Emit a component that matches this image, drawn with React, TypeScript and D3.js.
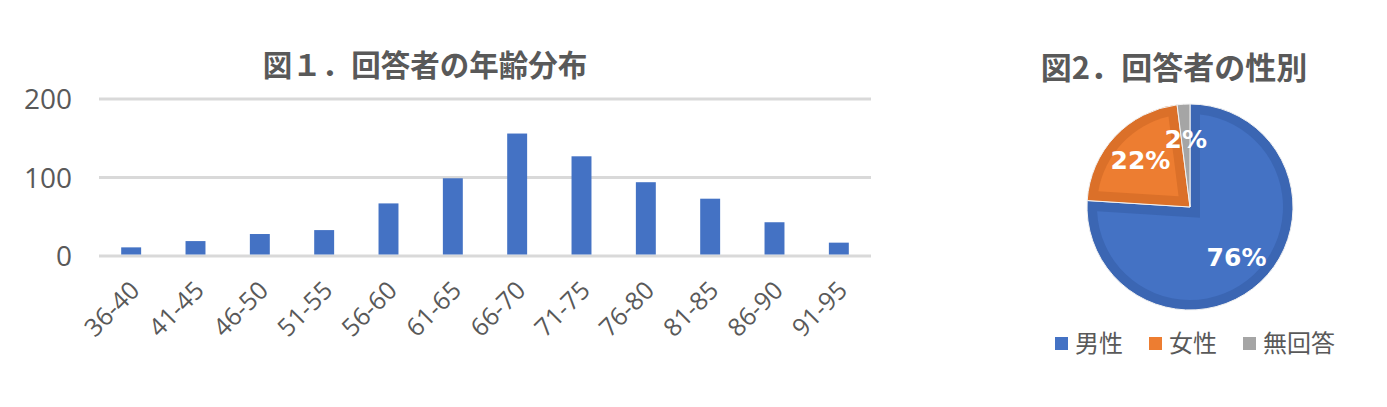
import * as d3 from 'd3';

// bar chart: respondents by age group
const ageGroups = ['36-40', '41-45', '46-50', '51-55', '56-60', '61-65', '66-70', '71-75', '76-80', '81-85', '86-90', '91-95'];
const ageCounts = [11, 19, 28, 33, 67, 99, 156, 127, 94, 73, 43, 17];
const yTicks = [0, 100, 200];

// pie chart: respondents by gender
const genders = ['男性', '女性', '無回答'];
const genderShares = [76, 22, 2];
const genderColors = ['#4472c4', '#ed7d31', '#a5a5a5'];
const genderEdges = ['#3b66b3', '#db7029', '#a5a5a5'];

const TEXT = '#595959';
const JP = '"Noto Sans CJK JP", "Noto Sans", sans-serif';
const NUM = '"Open Sans", "DejaVu Sans", sans-serif';
const BOLDNUM = '"DejaVu Sans", Verdana, sans-serif';

// inset slice for the bevel look: offset d px from both radial edges and the rim
function insetSlice(a0: number, a1: number, r: number, d: number) {
  const R = r - d;
  const theta = a1 - a0;
  const delta = Math.asin(d / R);
  if (theta <= 2 * delta + 0.05) return null;
  const mid = (a0 + a1) / 2;
  const dist = d / Math.sin(theta / 2);
  const p = d3.path();
  p.moveTo(Math.sin(mid) * dist, -Math.cos(mid) * dist);
  p.lineTo(Math.sin(a0 + delta) * R, -Math.cos(a0 + delta) * R);
  p.arc(0, 0, R, a0 + delta - Math.PI / 2, a1 - delta - Math.PI / 2);
  p.closePath();
  return p.toString();
}

function BarChart() {
  const x = d3.scaleBand<string>().domain(ageGroups).range([99, 871]).paddingInner(0.69).paddingOuter(0.345);
  const y = d3.scaleLinear().domain([0, 200]).range([256, 99]);

  return (
    <g>
      <text x={425} y={76} textAnchor="middle" fontFamily={JP} fontWeight="bold" fontSize={29.5} fill={TEXT}>
        図１．回答者の年齢分布
      </text>
      {yTicks.map((t) => (
        <g key={t}>
          <line x1={99} x2={871} y1={y(t)} y2={y(t)} stroke="#d9d9d9" strokeWidth={3} />
          <text x={72} y={y(t)} dy="0.36em" textAnchor="end" fontFamily={NUM} fontSize={28} fill={TEXT}>
            {t}
          </text>
        </g>
      ))}
      {ageGroups.map((g, i) => (
        <rect key={g} x={x(g)} y={y(ageCounts[i])} width={x.bandwidth()} height={y(0) - y(ageCounts[i]) - 1.5} fill="#4472c4" />
      ))}
      {ageGroups.map((g) => {
        const cx = (x(g) ?? 0) + x.bandwidth() / 2 + 10;
        const cy = 292;
        return (
          <text
            key={g}
            transform={`translate(${cx},${cy}) rotate(-45)`}
            textAnchor="end"
            fontFamily={NUM}
            fontSize={25}
            fill={TEXT}
          >
            {g}
          </text>
        );
      })}
    </g>
  );
}

function PieChart() {
  const cx = 1190;
  const cy = 207;
  const r = 103;
  const arcs = d3.pie<number>().sort(null).value((d) => d)(genderShares);
  const arc = d3.arc<d3.PieArcDatum<number>>().innerRadius(0).outerRadius(r);
  const labelArc = d3.arc<d3.PieArcDatum<number>>().innerRadius(68).outerRadius(68);

  // legend layout from label lengths
  const fs = 24;
  let lx = 1055;
  const legend = genders.map((g, i) => {
    const item = { g, i, x: lx };
    lx += 20 + g.length * fs + 26;
    return item;
  });

  return (
    <g>
      <text x={1174} y={79} textAnchor="middle" fontFamily={JP} fontWeight="bold" fontSize={31} fill={TEXT}>
        図2．回答者の性別
      </text>
      <g transform={`translate(${cx},${cy})`}>
        {arcs.map((a, i) => (
          <path key={'o' + i} d={arc(a) ?? ''} fill={genderEdges[i]} stroke="#f2f2f2" strokeWidth={1} />
        ))}
        {arcs.map((a, i) => {
          const d = insetSlice(a.startAngle, a.endAngle, r, 10);
          return d ? <path key={'i' + i} d={d} fill={genderColors[i]} /> : null;
        })}
        {arcs.map((a, i) => {
          const [lx2, ly2] = labelArc.centroid(a);
          return (
            <text key={'l' + i} x={lx2} y={ly2} dy="0.36em" textAnchor="middle" fontFamily={BOLDNUM} fontWeight="bold" fontSize={25} fill="#ffffff">
              {genderShares[i]}%
            </text>
          );
        })}
      </g>
      {legend.map((l) => (
        <g key={l.g}>
          <rect x={l.x} y={337} width={13} height={13} fill={genderColors[l.i]} />
          <text x={l.x + 20} y={352} fontFamily={JP} fontSize={fs} fill={TEXT}>
            {l.g}
          </text>
        </g>
      ))}
    </g>
  );
}

export default function App() {
  return (
    <svg width={1387} height={407} style={{ position: 'absolute', left: 0, top: 0, background: '#fff' }}>
      <BarChart />
      <PieChart />
    </svg>
  );
}
